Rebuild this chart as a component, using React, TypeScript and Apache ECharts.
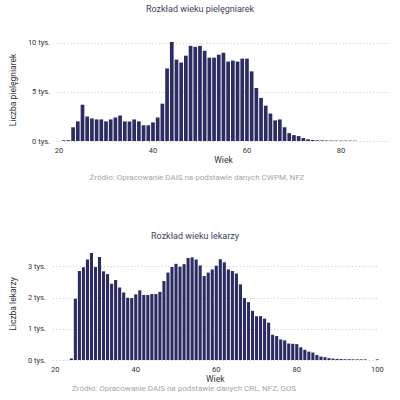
import React, { useEffect, useRef } from "react";
import * as echarts from "echarts";

const nurseAges = [21,22,23,24,25,26,27,28,29,30,31,32,33,34,35,36,37,38,39,40,41,42,43,44,45,46,47,48,49,50,51,52,53,54,55,56,57,58,59,60,61,62,63,64,65,66,67,68,69,70,71,72,73,74,75,76,77,78,79,80,81,82,83];
const nurseCounts = [70,80,1400,2000,3700,2500,2300,2200,2200,2000,2200,2400,2600,2000,2000,2200,2000,1600,1600,1900,2400,3800,7400,10100,8300,8000,8700,9700,9600,9700,9200,8500,8500,8800,9000,8100,8200,8100,8400,8400,7100,5400,4400,3600,2800,2100,2200,1400,800,600,500,300,170,100,70,60,50,50,40,40,40,40,30];

const doctorAges = [24,25,26,27,28,29,30,31,32,33,34,35,36,37,38,39,40,41,42,43,44,45,46,47,48,49,50,51,52,53,54,55,56,57,58,59,60,61,62,63,64,65,66,67,68,69,70,71,72,73,74,75,76,77,78,79,80,81,82,83,84,85,86,87,88,89,90,91,92,93,94,95,96,97,100];
const doctorCounts = [50,1970,2860,2980,3230,3440,2990,3310,2850,2760,2450,2570,2330,2170,2000,1990,2110,2240,2090,2090,2120,2120,2190,2540,2810,2990,3090,3000,3080,3280,3300,3230,3040,2700,2810,2910,3030,3240,3140,2910,2860,2780,2430,1990,1860,1580,1410,1410,1330,1200,810,770,660,630,530,520,510,410,330,270,240,160,110,90,60,45,35,30,25,25,20,20,20,20,20];

const xTicks = { top: [20, 40, 60, 80], bottom: [20, 40, 60, 80, 100] };
const titles = ["Rozkład wieku pielęgniarek", "Rozkład wieku lekarzy"];
const yNames = ["Liczba pielęgniarek", "Liczba lekarzy"];
const xName = "Wiek";
const captions = [
  "Źródło: Opracowanie DAiS na podstawie danych CWPM, NFZ",
  "Źródło: Opracowanie DAiS na podstawie danych CRL, NFZ, GUS",
];

const FONT = "Roboto";
const BAR = "#2b2d62";
const TITLE = "#3d3f5e";
const LABEL = "#333333";
const CAPTION = "#a6a6a6";

export default function App() {
  const ref = useRef<HTMLDivElement>(null);
  useEffect(() => {
    if (!ref.current) return;
    const chart = echarts.init(ref.current, null, { renderer: "svg" });
    const fmt = (v: number) => (v % 1000 === 0 ? `${v / 1000} tys.` : "");
    const yCommon = (name: string, gap: number, max: number, interval: number, idx: number) => ({
      type: "value",
      gridIndex: idx,
      min: 0,
      max,
      interval,
      name,
      nameLocation: "middle",
      nameGap: gap,
      nameTextStyle: { fontFamily: FONT, fontSize: 8.5, color: LABEL },
      axisLine: { show: false },
      axisTick: { show: false },
      axisLabel: { fontFamily: FONT, fontSize: 7.5, color: LABEL, margin: 7, formatter: fmt },
      splitLine: {
        show: true,
        showMaxLine: false,
        lineStyle: { type: [1.2, 2.2], color: "#c4c4c4", width: 0.8 },
      },
    });
    const xCommon = (min: number, max: number, ticks: number[], idx: number) => ({
      type: "value",
      gridIndex: idx,
      min,
      max,
      name: xName,
      nameLocation: "middle",
      nameGap: 14,
      nameTextStyle: { fontFamily: FONT, fontSize: 8.5, color: LABEL },
      axisLine: { show: false },
      axisTick: { show: false },
      splitLine: { show: false },
      axisLabel: { customValues: ticks, fontFamily: FONT, fontSize: 7.5, color: LABEL, margin: 5 },
    });
    chart.setOption({
      animation: false,
      grid: [
        { left: 53, right: 10, top: 39, bottom: 259 },
        { left: 46.8, right: 22.3, top: 248, bottom: 40 },
      ],
      xAxis: [
        xCommon(19.58, 90.45, xTicks.top, 0),
        xCommon(19.4, 100.1, xTicks.bottom, 1),
      ],
      yAxis: [
        yCommon(yNames[0], 37, 10400, 5000, 0),
        yCommon(yNames[1], 31, 3600, 1000, 1),
      ],
      series: [
        {
          type: "bar",
          xAxisIndex: 0,
          yAxisIndex: 0,
          barWidth: 3.7,
          itemStyle: { color: BAR },
          data: nurseAges.map((a, i) => [a, nurseCounts[i]]),
        },
        {
          type: "bar",
          xAxisIndex: 1,
          yAxisIndex: 1,
          barWidth: 3.1,
          itemStyle: { color: BAR },
          data: doctorAges.map((a, i) => [a, doctorCounts[i]]),
        },
      ],
      graphic: [
        { type: "text", x: 200, y: 9, style: { text: titles[0], fontFamily: FONT, fontSize: 9, fill: TITLE, align: "center", verticalAlign: "middle" } },
        { type: "text", x: 195, y: 236, style: { text: titles[1], fontFamily: FONT, fontSize: 9, fill: TITLE, align: "center", verticalAlign: "middle" } },
        { type: "text", x: 197, y: 177, style: { text: captions[0], fontFamily: FONT, fontSize: 8, fill: CAPTION, align: "center", verticalAlign: "middle" } },
        { type: "text", x: 184, y: 388, style: { text: captions[1], fontFamily: FONT, fontSize: 8, fill: CAPTION, align: "center", verticalAlign: "middle" } },
      ],
    });
    return () => chart.dispose();
  }, []);
  return (
    <div
      ref={ref}
      style={{ position: "absolute", left: 0, top: 0, width: 400, height: 400, background: "#fff" }}
    />
  );
}
